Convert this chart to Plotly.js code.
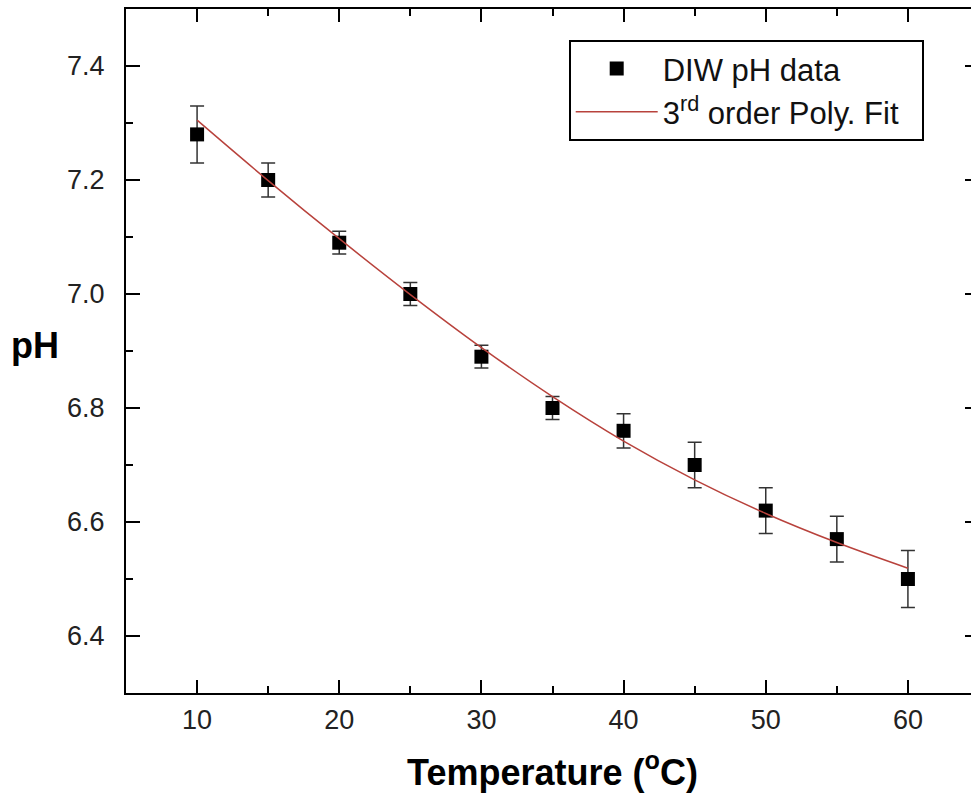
<!DOCTYPE html>
<html>
<head>
<meta charset="utf-8">
<script src="https://cdn.plot.ly/plotly-3.0.1.min.js"></script>
<style>
html,body{margin:0;padding:0;overflow:hidden;background:#fff;}
#chart{width:985px;height:800px;}
</style>
</head>
<body>
<div id="chart"></div>
<script>
// Data
const temperature = [10, 15, 20, 25, 30, 35, 40, 45, 50, 55, 60];
const phValues    = [7.28, 7.20, 7.09, 7.00, 6.89, 6.80, 6.76, 6.70, 6.62, 6.57, 6.50];
const phErrors    = [0.05, 0.03, 0.02, 0.02, 0.02, 0.02, 0.03, 0.04, 0.04, 0.04, 0.05];
const fitValues   = [7.305, 7.199, 7.097, 6.999, 6.906, 6.820, 6.742, 6.674, 6.615, 6.564, 6.519];
const xTickVals   = [10, 20, 30, 40, 50, 60];
const yTickVals   = [6.4, 6.6, 6.8, 7.0, 7.2, 7.4];

const labelFont = {family: 'Liberation Sans, Arial, sans-serif', size: 27, color: '#222'};

const traces = [
  {
    x: temperature, y: phValues, type: 'scatter', mode: 'markers',
    name: 'DIW pH data',
    marker: {symbol: 'square', size: 14, color: '#000'},
    error_y: {type: 'data', array: phErrors, visible: true, color: '#333', thickness: 1.5, width: 7}
  },
  {
    x: temperature, y: fitValues, type: 'scatter', mode: 'lines',
    name: '3<sup>rd</sup> order Poly. Fit&nbsp;&nbsp;',
    line: {color: '#b8423c', width: 1.5, shape: 'spline'}
  }
];

const axisCommon = {
  showline: true, linecolor: '#000', linewidth: 2,
  ticks: 'inside', tickcolor: '#000', tickwidth: 2,
  mirror: 'ticks', showgrid: false, zeroline: false,
  tickfont: labelFont
};

const layout = {
  width: 985, height: 800,
  margin: {l: 126, r: 6, t: 9, b: 107},
  paper_bgcolor: '#fff', plot_bgcolor: '#fff',
  showlegend: true,
  xaxis: Object.assign({}, axisCommon, {
    range: [5, 65], tickmode: 'array', tickvals: xTickVals,
    ticklen: 13, ticklabelstandoff: 2,
    minor: {dtick: 5, tick0: 5, ticks: 'inside', ticklen: 7, tickwidth: 2, tickcolor: '#000', showgrid: false},
    title: {text: 'Temperature (<sup>o</sup>C)', font: {family: 'Liberation Sans, Arial, sans-serif', size: 36, color: '#000', weight: 'bold'}, standoff: 25}
  }),
  yaxis: Object.assign({}, axisCommon, {
    range: [6.3, 7.5], tickmode: 'array', tickvals: yTickVals, tickformat: '.1f',
    ticklen: 14, ticklabelstandoff: 14,
    minor: {dtick: 0.1, tick0: 6.3, ticks: 'inside', ticklen: 7, tickwidth: 2, tickcolor: '#000', showgrid: false}
  }),
  legend: {
    x: 0.519, y: 0.955, xanchor: 'left', yanchor: 'top',
    bordercolor: '#000', borderwidth: 2, bgcolor: '#fff',
    font: {family: 'Liberation Sans, Arial, sans-serif', size: 31, color: '#111'},
    itemwidth: 82, tracegroupgap: 0
  },
  annotations: [
    {text: '<b>pH</b>', xref: 'paper', yref: 'paper', x: -0.137, y: 0.508, xanchor: 'left', yanchor: 'middle', showarrow: false,
     font: {family: 'Liberation Sans, Arial, sans-serif', size: 36, color: '#000'}}
  ]
};

Plotly.newPlot('chart', traces, layout, {displayModeBar: false, staticPlot: true});
</script>
</body>
</html>
